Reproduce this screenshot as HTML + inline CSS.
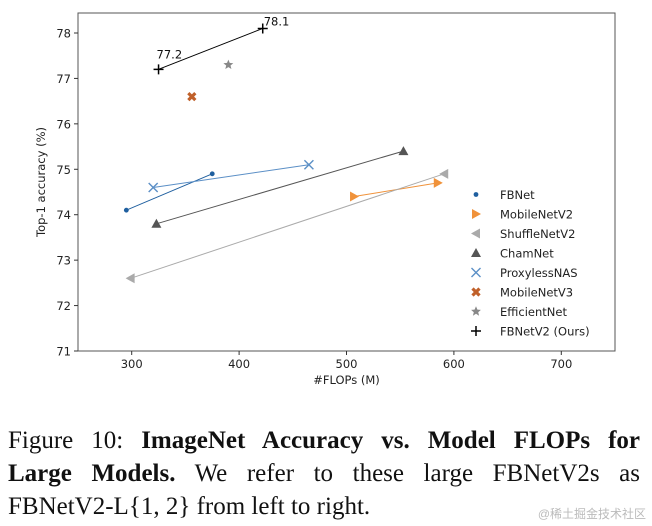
<!DOCTYPE html>
<html><head><meta charset="utf-8"><style>
body{margin:0;background:#fff;width:652px;height:526px;overflow:hidden;position:relative}
svg text{font-family:"DejaVu Sans","Liberation Sans",sans-serif}
.cap{position:absolute;left:8px;width:632px;font-family:"Liberation Serif",serif;font-size:25px;line-height:33px;color:#111}
.cap div{text-align:justify;text-align-last:justify;white-space:nowrap}
.cap div.last{text-align-last:left}
.wm{position:absolute;right:6px;bottom:4px;font-family:"Liberation Sans","Noto Sans CJK SC",sans-serif;font-size:12px;color:#bbb}
</style></head><body>
<svg id="chart" width="652" height="420" style="position:absolute;left:0;top:0"></svg>
<div class="cap" style="top:424px">
<div>Figure 10: <b>ImageNet Accuracy vs. Model FLOPs for</b></div>
<div><b>Large Models.</b> We refer to these large FBNetV2s as</div>
<div class="last">FBNetV2-L{1, 2} from left to right.</div>
</div>
<div class="wm">@稀土掘金技术社区</div>
<script>
const seriesNames=["FBNet","MobileNetV2","ShuffleNetV2","ChamNet","ProxylessNAS","MobileNetV3","EfficientNet","FBNetV2 (Ours)"];
const fbnetX=[295,375],fbnetY=[74.1,74.9];
const mnv2X=[507,585],mnv2Y=[74.4,74.7];
const shuffleX=[299,591],shuffleY=[72.6,74.9];
const chamX=[323,553],chamY=[73.8,75.4];
const proxyX=[320,465],proxyY=[74.6,75.1];
const mnv3X=[356],mnv3Y=[76.6];
const effX=[390],effY=[77.3];
const fbv2X=[325,422],fbv2Y=[77.2,78.1];
const xTicks=[300,400,500,600,700];
const yTicks=[71,72,73,74,75,76,77,78];
const fbv2Labels=["77.2","78.1"];

const L=78,R=615,T=13,B=351,X0=250,X1=750,Y0=71,Y1=78.44;
const sx=v=>L+(v-X0)/(X1-X0)*(R-L);
const sy=v=>B-(v-Y0)/(Y1-Y0)*(B-T);
const svg=document.getElementById('chart');
const NS='http://www.w3.org/2000/svg';
function mk(tag,attrs,parent){const e=document.createElementNS(NS,tag);for(const k in attrs)e.setAttribute(k,attrs[k]);(parent||svg).appendChild(e);return e;}
function marker(type,x,y,c,name){
  const g=mk('g',{});
  
  
  if(type==='dot')mk('circle',{cx:x,cy:y,r:2.4,fill:c},g);
  else if(type==='right')mk('polygon',{points:`${x-4},${y-5} ${x+5},${y} ${x-4},${y+5}`,fill:c},g);
  else if(type==='left')mk('polygon',{points:`${x+4},${y-5} ${x-5},${y} ${x+4},${y+5}`,fill:c},g);
  else if(type==='up')mk('polygon',{points:`${x-5},${y+4} ${x},${y-5} ${x+5},${y+4}`,fill:c},g);
  else if(type==='x'){mk('path',{d:`M${x-4.5},${y-4.5}L${x+4.5},${y+4.5}M${x+4.5},${y-4.5}L${x-4.5},${y+4.5}`,stroke:c,'stroke-width':1.4},g);}
  else if(type==='X'){mk('path',{d:`M${x-3.5},${y-3.5}L${x+3.5},${y+3.5}M${x+3.5},${y-3.5}L${x-3.5},${y+3.5}`,stroke:c,'stroke-width':3.2},g);}
  else if(type==='star'){let p=[];for(let i=0;i<10;i++){const r=i%2?2.3:5.2,a=-Math.PI/2+i*Math.PI/5;p.push((x+r*Math.cos(a)).toFixed(1)+','+(y+r*Math.sin(a)).toFixed(1));}mk('polygon',{points:p.join(' '),fill:c},g);}
  else if(type==='plus'){mk('path',{d:`M${x-5},${y}L${x+5},${y}M${x},${y-5}L${x},${y+5}`,stroke:c,'stroke-width':1.5},g);}
}
const fr=mk('rect',{x:L,y:T,width:R-L,height:B-T,fill:'none',stroke:'#555','stroke-width':1});

xTicks.forEach(v=>{const x=sx(v);mk('line',{x1:x,y1:B,x2:x,y2:B+4,stroke:'#333'});
 const t=mk('text',{x:x,y:B+17,'text-anchor':'middle','font-size':11.5,fill:'#222'});t.textContent=v;
 });
yTicks.forEach(v=>{const y=sy(v);mk('line',{x1:L-4,y1:y,x2:L,y2:y,stroke:'#333'});
 const t=mk('text',{x:L-7,y:y+4.5,'text-anchor':'end','font-size':11.5,fill:'#222'});t.textContent=v;
 });
let xt=mk('text',{x:(L+R)/2,y:B+33,'text-anchor':'middle','font-size':11.5,fill:'#222'});xt.textContent='#FLOPs (M)';

let yt=mk('text',{x:0,y:0,'text-anchor':'middle','font-size':11.5,fill:'#222',transform:`translate(45,${(T+B)/2}) rotate(-90)`});yt.textContent='Top-1 accuracy (%)';


const series=[
 [fbnetX,fbnetY,'dot','#1f5f9f','fbnet'],
 [mnv2X,mnv2Y,'right','#f0923a','mobilenetv2'],
 [shuffleX,shuffleY,'left','#aaaaaa','shufflenetv2'],
 [chamX,chamY,'up','#555555','chamnet'],
 [proxyX,proxyY,'x','#5b8fc6','proxylessnas'],
 [mnv3X,mnv3Y,'X','#c0602a','mobilenetv3'],
 [effX,effY,'star','#888888','efficientnet'],
 [fbv2X,fbv2Y,'plus','#000000','fbnetv2']];
series.forEach(([xs,ys,type,c,name])=>{
 if(xs.length>1){const l=mk('polyline',{points:xs.map((v,i)=>sx(v)+','+sy(ys[i])).join(' '),fill:'none',stroke:c,'stroke-width':1});
  }
 xs.forEach((v,i)=>marker(type,sx(v),sy(ys[i]),c,name+'-point'));
});
fbv2X.forEach((v,i)=>{const t=mk('text',{x:sx(v)+(i?1:-2),y:sy(fbv2Y[i])-(i?3:11),'font-size':11.5,fill:'#111'});t.textContent=fbv2Labels[i];
 });
series.forEach(([xs,ys,type,c,name],i)=>{const y=194.5+i*19.5;marker(type,476,y,c,'legend-marker-'+name);
 const t=mk('text',{x:500,y:y+4.5,'font-size':11.5,fill:'#222'});t.textContent=seriesNames[i];
 });
</script>
</body></html>
